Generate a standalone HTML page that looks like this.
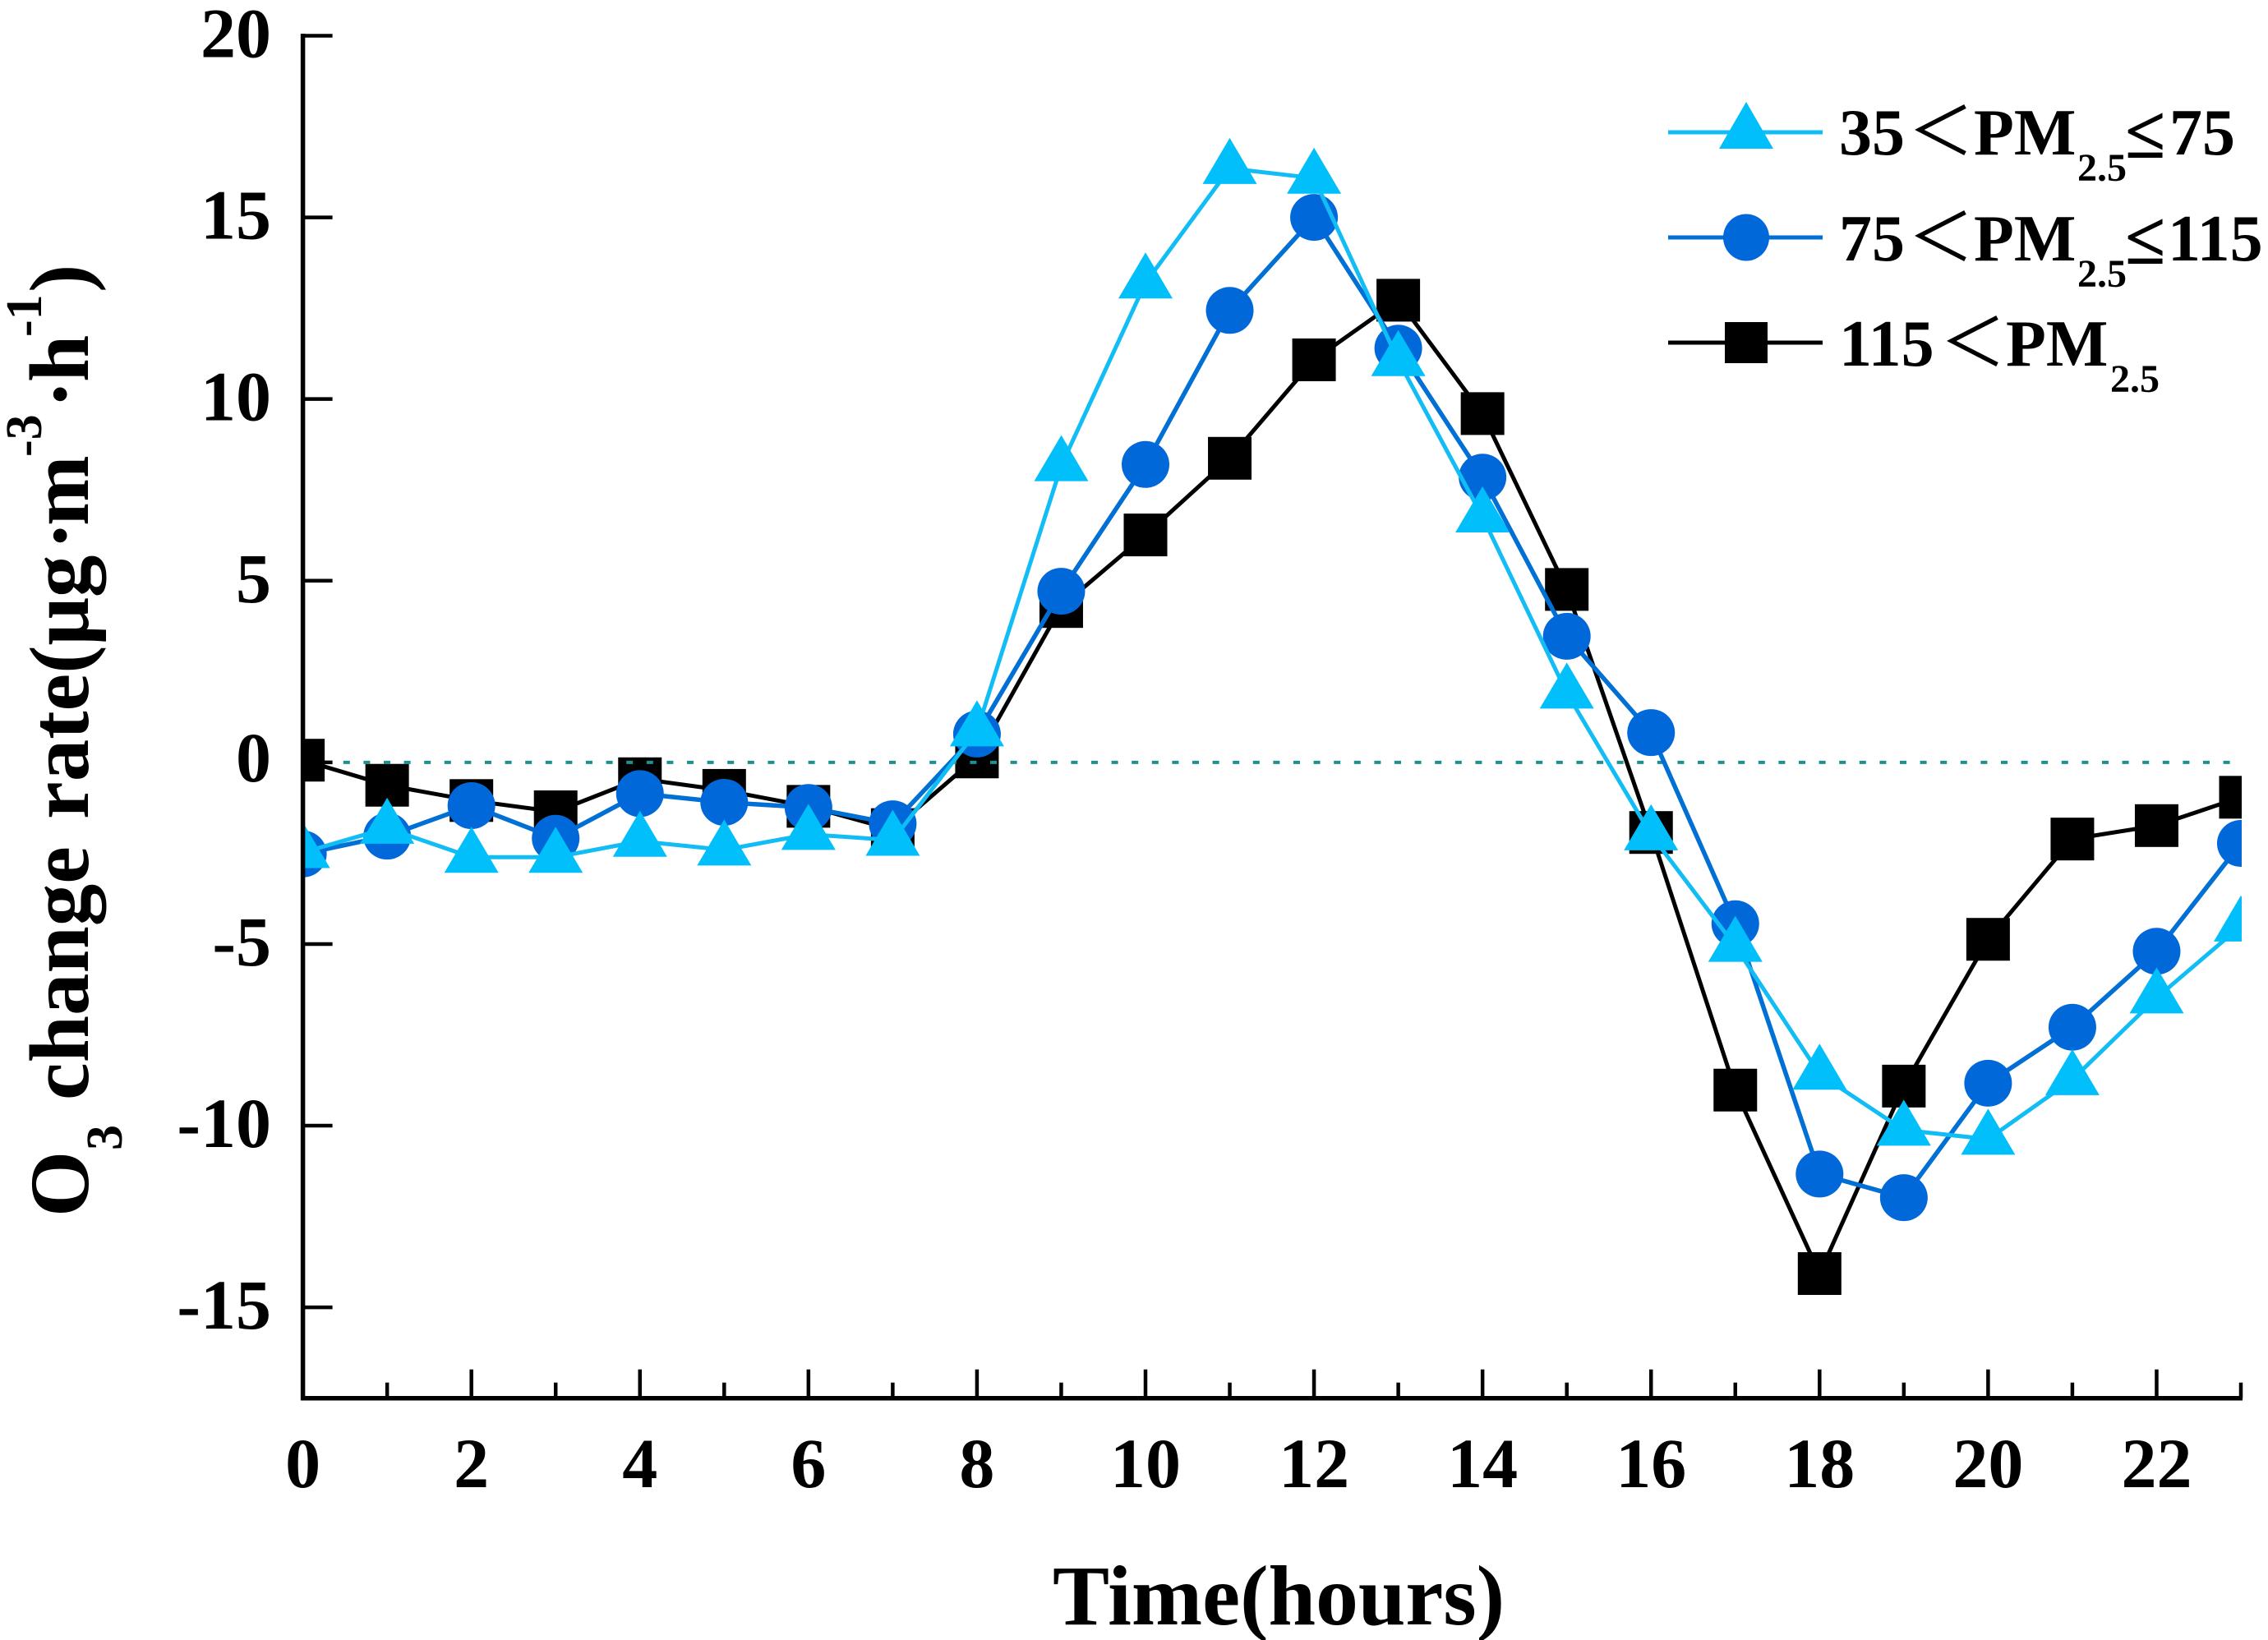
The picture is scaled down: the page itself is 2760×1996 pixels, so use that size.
<!DOCTYPE html>
<html lang="en">
<head>
<meta charset="utf-8">
<title>O3 change rate by hour</title>
<style>
  html, body { margin: 0; padding: 0; background: #fff; }
  svg { display: block; }
  text { font-family: "Liberation Serif", "Noto Serif CJK SC", serif; font-weight: bold; fill: #000; }
  .cjk { font-family: "Noto Sans CJK SC", "Liberation Serif", sans-serif; font-weight: normal; }
</style>
</head>
<body>
<svg id="chart" xmlns="http://www.w3.org/2000/svg" width="2760" height="1996" viewBox="0 0 2760 1996">
  <rect x="0" y="0" width="2760" height="1996" fill="#ffffff"/>
  <defs>
    <clipPath id="plot-clip"><rect x="368" y="0" width="2360" height="1996"/></clipPath>
  </defs>
  <g id="plot" clip-path="url(#plot-clip)"></g>
  <g id="axes"></g>

  <text x="1281" y="1977" font-size="103.5">Time(hours)</text>

  <g transform="translate(107,0) rotate(-90)" font-size="103">
    <text x="-1481" y="0" font-size="103">O</text>
    <text x="-1400" y="41" font-size="62">3</text>
    <text x="-1339" y="0" font-size="103">change</text>
    <text x="-997" y="0" font-size="103">rate(μg</text>
    <text x="-669" y="0" font-size="103">·</text>
    <text x="-640" y="0" font-size="103">m</text>
    <text x="-556" y="-57" font-size="62">-3</text>
    <text x="-497" y="0" font-size="103">·</text>
    <text x="-465" y="0" font-size="103">h</text>
    <text x="-410" y="-57" font-size="62">-1</text>
    <text x="-356" y="0" font-size="103">)</text>
  </g>

  <g>
    <g>
      <line x1="2030" y1="161" x2="2218" y2="161" stroke="#12BDF5" stroke-width="5"/>
      <polygon points="2125,124 2158,181 2092,181" fill="#00BFFA"/>
      <text y="188" font-size="80">
        <tspan x="2238">35</tspan><tspan class="cjk" x="2322">＜</tspan><tspan x="2402">PM</tspan><tspan x="2528" y="220" font-size="48">2.5</tspan><tspan x="2586" y="192" font-size="90">≤</tspan><tspan x="2640" y="188">75</tspan>
      </text>
    </g>
    <g>
      <line x1="2030" y1="289" x2="2218" y2="289" stroke="#0070D4" stroke-width="5"/>
      <ellipse cx="2125" cy="289" rx="28" ry="28.5" fill="#0068D9"/>
      <text y="317" font-size="80">
        <tspan x="2238">75</tspan><tspan class="cjk" x="2322">＜</tspan><tspan x="2402">PM</tspan><tspan x="2528" y="349" font-size="48">2.5</tspan><tspan x="2586" y="321" font-size="90">≤</tspan><tspan x="2638" y="317">115</tspan>
      </text>
    </g>
    <g>
      <line x1="2030" y1="417" x2="2218" y2="417" stroke="#000000" stroke-width="5"/>
      <rect x="2099" y="392" width="52" height="50" fill="#000000"/>
      <text y="445" font-size="80">
        <tspan x="2238">115</tspan><tspan class="cjk" x="2361">＜</tspan><tspan x="2441">PM</tspan><tspan x="2568" y="477" font-size="48">2.5</tspan>
      </text>
    </g>
  </g>
</svg>

<script>
const hours = [0,1,2,3,4,5,6,7,8,9,10,11,12,13,14,15,16,17,18,19,20,21,22,23];
const seriesLow = [-2.48,-1.81,-2.61,-2.61,-2.17,-2.41,-1.98,-2.14,0.87,8.17,13.2,16.35,16.08,11.06,6.76,1.91,-1.99,-5.06,-8.58,-10.12,-10.37,-8.73,-6.48,-4.5];
const seriesMid = [-2.52,-2.03,-1.19,-2.09,-0.86,-1.1,-1.24,-1.69,0.78,4.71,8.2,12.44,15.0,11.4,7.85,3.47,0.82,-4.44,-11.33,-11.98,-8.83,-7.29,-5.2,-2.23];
const seriesHigh = [0.06,-0.63,-1.05,-1.36,-0.45,-0.77,-1.21,-1.85,0.15,4.29,6.26,8.37,11.08,12.72,9.6,4.76,-1.93,-9.02,-14.07,-8.91,-4.87,-2.11,-1.74,-0.96];
const yTickValues = [20,15,10,5,0,-5,-10,-15];
const xTickValues = [0,1,2,3,4,5,6,7,8,9,10,11,12,13,14,15,16,17,18,19,20,21,22,23];
const xLabelValues = [0,2,4,6,8,10,12,14,16,18,20,22];
const xDomain = [0, 23];
const yDomain = [-17.5, 20];

const SVG_NS = 'http://www.w3.org/2000/svg';
const plotLeft = 368.6, plotRight = 2727, plotTop = 43.5, plotBottom = 1701.7;

function xScale(h) {
  return plotLeft + (h - xDomain[0]) / (xDomain[1] - xDomain[0]) * (plotRight - plotLeft);
}
function yScale(v) {
  return plotBottom - (v - yDomain[0]) / (yDomain[1] - yDomain[0]) * (plotBottom - plotTop);
}
function make(tag, attrs, parent) {
  const el = document.createElementNS(SVG_NS, tag);
  for (const k in attrs) el.setAttribute(k, attrs[k]);
  parent.appendChild(el);
  return el;
}

const plot = document.getElementById('plot');
const axes = document.getElementById('axes');

function drawSeriesLine(values, color, width, name) {
  const pts = values.map((v, i) => xScale(hours[i]).toFixed(1) + ',' + yScale(v).toFixed(1)).join(' ');
  const line = make('polyline', { points: pts, fill: 'none', stroke: color, 'stroke-width': width, 'stroke-linejoin': 'round' }, plot);
  
  
}

function drawZeroLine() {
  const zero = make('line', {
    x1: xScale(xDomain[0]), x2: xScale(xDomain[1]), y1: yScale(0), y2: yScale(0),
    stroke: '#1F8F8F', 'stroke-width': 4, 'stroke-dasharray': '8 16.6'
  }, plot);
  
  
}

// black series
drawSeriesLine(seriesHigh, '#000000', 5, 'line-pm25-above-115');
seriesHigh.forEach((v, i) => {
  const sq = make('rect', { x: xScale(hours[i]) - 26.5, y: yScale(v) - 26, width: 53, height: 52, fill: '#000000' }, plot);
  
  
});

drawZeroLine();

// mid blue series
drawSeriesLine(seriesMid, '#0070D4', 5.5, 'line-pm25-75-115');
seriesMid.forEach((v, i) => {
  const c = make('ellipse', { cx: xScale(hours[i]), cy: yScale(v), rx: 29, ry: 28.5, fill: '#0068D9' }, plot);
  
  
});

// light blue series
drawSeriesLine(seriesLow, '#12BDF5', 5, 'line-pm25-35-75');
seriesLow.forEach((v, i) => {
  const x = xScale(hours[i]), y = yScale(v);
  const pts = [[x, y - 37], [x + 33, y + 19], [x - 33, y + 19]].map(p => p[0].toFixed(1) + ',' + p[1].toFixed(1)).join(' ');
  const t = make('polygon', { points: pts, fill: '#00BFFA' }, plot);
  
  
});

// axes
const yAxisLine = make('line', { x1: plotLeft, x2: plotLeft, y1: plotTop - 2.5, y2: plotBottom + 2.5, stroke: '#000', 'stroke-width': 5.5 }, axes);


const xAxisLine = make('line', { x1: plotLeft - 2.5, x2: plotRight + 2, y1: plotBottom, y2: plotBottom, stroke: '#000', 'stroke-width': 5.5 }, axes);



yTickValues.forEach(v => {
  const y = yScale(v);
  const tick = make('line', { x1: plotLeft, x2: plotLeft + 36, y1: y, y2: y, stroke: '#000', 'stroke-width': 4.5 }, axes);
  
  
  const label = make('text', { x: 330, y: y + (v === 0 ? 23 : 26), 'font-size': 86, 'text-anchor': 'end' }, axes);
  label.textContent = String(v);
  
  
});

xTickValues.forEach(h => {
  const x = xScale(h);
  const isMajor = xLabelValues.includes(h);
  const tick = make('line', { x1: x, x2: x, y1: plotBottom, y2: plotBottom - (isMajor ? 35 : 19), stroke: '#000', 'stroke-width': 4.5 }, axes);
  
  
});

xLabelValues.forEach(h => {
  const label = make('text', { x: xScale(h), y: 1810, 'font-size': 86, 'text-anchor': 'middle' }, axes);
  label.textContent = String(h);
  
  
});
</script>
</body>
</html>
